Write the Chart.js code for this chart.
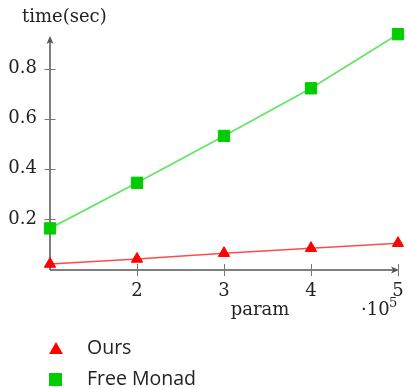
<!DOCTYPE html>
<html>
<head>
<meta charset="utf-8">
<script src="https://cdn.jsdelivr.net/npm/chart.js@4/dist/chart.umd.min.js"></script>
<style>
  html, body { margin: 0; padding: 0; background: #fff; }
  #wrap { position: relative; width: 407px; height: 388px; overflow: hidden; }
  #c { position: absolute; left: 0; top: 0; }
  .leg { position: absolute; left: 87px; font-family: "Open Sans", sans-serif; font-size: 19.5px; color: #222; line-height: 22px; white-space: nowrap; }
  .mk { position: absolute; }
</style>
</head>
<body>
<div id="wrap">
  <canvas id="c" width="407" height="388"></canvas>
</div>
<script>
// ---- data ----
const xValues = [1, 2, 3, 4, 5];               // param (x 10^5)
const oursTimes = [0.020, 0.040, 0.063, 0.083, 0.103];
const freeMonadTimes = [0.162, 0.344, 0.531, 0.721, 0.937];
const seriesNames = ["Ours", "Free Monad"];
const xTickValues = [2, 3, 4, 5];
const yTickValues = [0.2, 0.4, 0.6, 0.8];
const yTitle = "time(sec)";
const xTitle = "param";

const serif = "'DejaVu Serif', serif";
const axisColor = "#555";

const axesPlugin = {
  id: 'axesArrows',
  beforeDatasetsDraw(chart) {
    const ctx = chart.ctx;
    const xs = chart.scales.x, ys = chart.scales.y;
    const x0 = xs.getPixelForValue(1);
    const y0 = ys.bottom + 1;
    ctx.save();
    ctx.strokeStyle = axisColor;
    ctx.fillStyle = axisColor;
    ctx.lineWidth = 1.5;
    // y axis
    const yTop = chart.chartArea.top + 3;
    ctx.beginPath(); ctx.moveTo(x0, y0); ctx.lineTo(x0, yTop + 3); ctx.stroke();
    ctx.beginPath();
    ctx.moveTo(x0, yTop); ctx.lineTo(x0 - 3.5, yTop + 8); ctx.lineTo(x0, yTop + 6); ctx.lineTo(x0 + 3.5, yTop + 8); ctx.closePath(); ctx.fill();
    // x axis
    const xRight = xs.getPixelForValue(5) + 1;
    ctx.beginPath(); ctx.moveTo(x0, y0); ctx.lineTo(xRight - 3, y0); ctx.stroke();
    ctx.beginPath();
    ctx.moveTo(xRight, y0); ctx.lineTo(xRight - 8, y0 - 3.5); ctx.lineTo(xRight - 6, y0); ctx.lineTo(xRight - 8, y0 + 3.5); ctx.closePath(); ctx.fill();
    // tick marks
    ctx.strokeStyle = "#777";
    ctx.lineWidth = 1;
    yTickValues.forEach(v => {
      const py = Math.round(ys.getPixelForValue(v)) + 0.5;
      ctx.beginPath(); ctx.moveTo(x0 - 5.5, py); ctx.lineTo(x0 + 5.5, py); ctx.stroke();
    });
    xTickValues.forEach(v => {
      const px = Math.round(xs.getPixelForValue(v)) + 0.5;
      ctx.beginPath(); ctx.moveTo(px, y0 - 6); ctx.lineTo(px, y0 + 6); ctx.stroke();
    });
    ctx.restore();
  },
  afterDraw(chart) {
    const ctx = chart.ctx;
    ctx.save();
    ctx.fillStyle = "#222";
    ctx.textBaseline = "alphabetic";
    ctx.font = "18px " + serif;
    ctx.textAlign = "left";
    ctx.fillText(yTitle, 22, 22);
    ctx.textAlign = "center";
    ctx.fillText(xTitle, 260, 315);
    // multiplier
    ctx.textAlign = "left";
    ctx.fillText("\u00B710", 361, 315);
    ctx.font = "13px " + serif;
    ctx.fillText("5", 389, 307);
    ctx.restore();
  }
};

const chart = new Chart(document.getElementById('c'), {
  type: 'line',
  data: {
    datasets: [
      {
        label: seriesNames[0],
        data: xValues.map((x, i) => ({ x: x, y: oursTimes[i] })),
        borderColor: '#ff4a4a',
        backgroundColor: '#ff0000',
        borderWidth: 1.5,
        pointStyle: 'triangle',
        pointRadius: 6.5,
        pointBorderWidth: 1,
        pointBorderColor: '#ff0000',
        pointBackgroundColor: '#ff0000',
        tension: 0
      },
      {
        label: seriesNames[1],
        data: xValues.map((x, i) => ({ x: x, y: freeMonadTimes[i] })),
        borderColor: '#66e466',
        backgroundColor: '#00cc00',
        borderWidth: 1.8,
        pointStyle: 'rect',
        pointRadius: 8,
        pointBorderWidth: 1,
        pointBorderColor: '#00cc00',
        pointBackgroundColor: '#00cc00',
        tension: 0
      }
    ]
  },
  options: {
    responsive: false,
    animation: false,
    clip: false,
    layout: { padding: { top: 33, right: 7, bottom: 79, left: 0 } },
    plugins: { legend: { display: false }, tooltip: { enabled: false } },
    scales: {
      x: {
        type: 'linear',
        min: 1, max: 5,
        grid: { display: false, drawTicks: false },
        border: { display: false },
        afterBuildTicks(s) { s.ticks = xTickValues.map(v => ({ value: v })); },
        afterFit(s) { s.height = 40; s.paddingLeft = 0; s.paddingRight = 0; },
        ticks: {
          padding: 12,
          color: '#222',
          font: { family: serif, size: 18 },
          callback: v => String(v),
          maxRotation: 0
        }
      },
      y: {
        type: 'linear',
        min: 0, max: 0.9417,
        grid: { display: false, drawTicks: false },
        border: { display: false },
        afterBuildTicks(s) { s.ticks = yTickValues.map(v => ({ value: v })); },
        afterFit(s) { s.width = 50; s.paddingTop = 0; s.paddingBottom = 0; },
        ticks: {
          padding: 13,
          color: '#222',
          font: { family: serif, size: 18 },
          callback: v => v.toFixed(1)
        }
      }
    }
  },
  plugins: [axesPlugin]
});

// HTML legend built from the datasets
const wrap = document.getElementById('wrap');
const legendRows = [
  { name: seriesNames[0], top: 336, shape: 'tri', color: '#ff0000' },
  { name: seriesNames[1], top: 367, shape: 'sq', color: '#00cc00' }
];
legendRows.forEach(r => {
  const t = document.createElement('div');
  t.className = 'leg';
  t.style.top = r.top + 'px';
  t.textContent = r.name;
  wrap.appendChild(t);
  const m = document.createElement('div');
  m.className = 'mk';
  if (r.shape === 'tri') {
    m.style.left = '49px'; m.style.top = (r.top + 6) + 'px';
    m.style.width = '0'; m.style.height = '0';
    m.style.borderLeft = '7px solid transparent';
    m.style.borderRight = '7px solid transparent';
    m.style.borderBottom = '12px solid ' + r.color;
  } else {
    m.style.left = '49px'; m.style.top = (r.top + 6) + 'px';
    m.style.width = '13px'; m.style.height = '13px';
    m.style.background = r.color;
  }
  wrap.appendChild(m);
});
</script>
</body>
</html>
